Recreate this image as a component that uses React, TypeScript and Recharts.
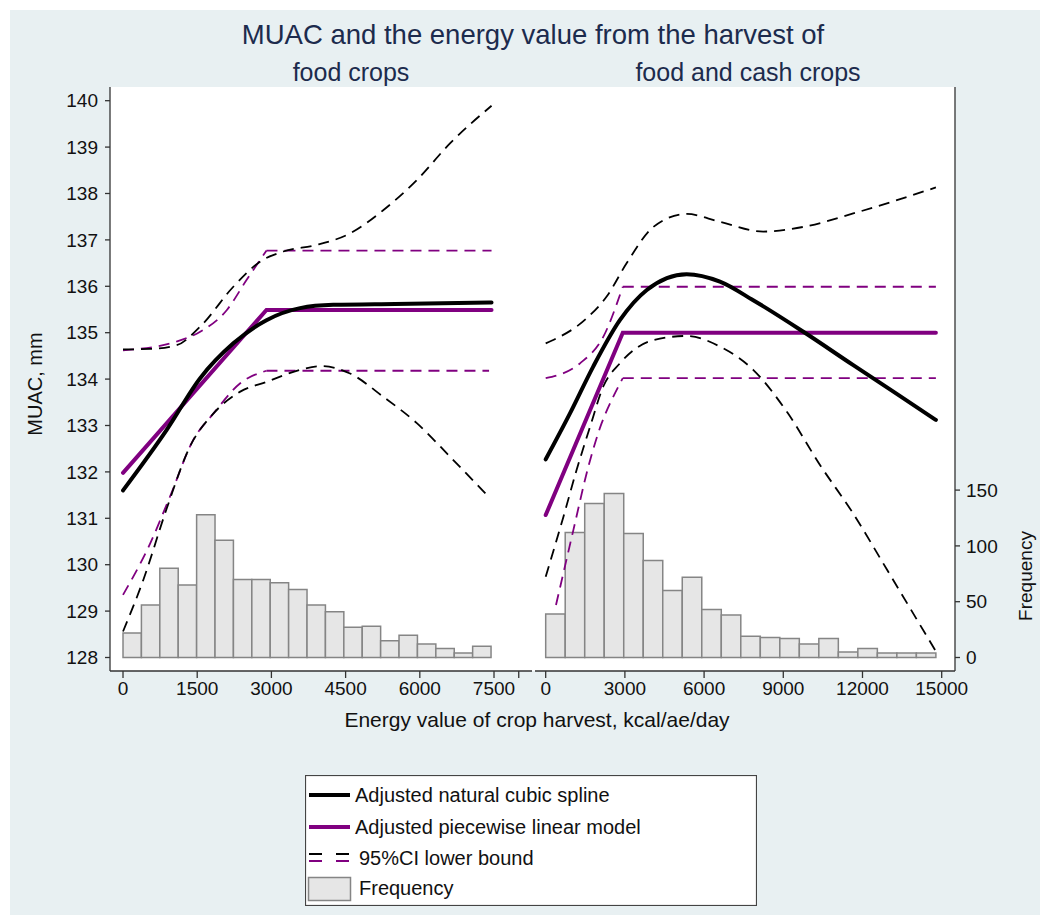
import React from "react";
import { ComposedChart, Line, XAxis, YAxis, ReferenceArea } from "recharts";

type Pair = [number, number];

const font = '"Liberation Sans", Arial, sans-serif';
const navy = "#1c2b4d";
const purple = "#800080";

// histogram bins (frequency per bin)
const foodBinWidth = 372;
const foodFreq = [22, 47, 80, 65, 128, 105, 70, 70, 67, 61, 47, 41, 27, 28, 15, 20, 12, 8, 4, 10];
const cashBinWidth = 739;
const cashFreq = [39, 112, 138, 147, 111, 87, 60, 72, 43, 38, 19, 18, 17, 12, 17, 5, 8, 4, 4, 4];

// food crops panel
const foodSpline: Pair[] = [[0, 131.6], [880, 132.9], [1560, 134.02], [2230, 134.77], [2900, 135.27], [3580, 135.53], [4250, 135.6], [5500, 135.62], [7450, 135.65]];
const foodSplineUpper: Pair[] = [[0, 134.64], [550, 134.65], [1085, 134.73], [1560, 135.13], [2230, 135.99], [2770, 136.53], [3240, 136.75], [3910, 136.89], [4590, 137.14], [5260, 137.64], [5940, 138.29], [6610, 139.08], [7450, 139.89]];
const foodSplineLower: Pair[] = [[0, 128.56], [410, 129.67], [880, 131.2], [1350, 132.54], [1830, 133.26], [2370, 133.73], [2900, 133.94], [3580, 134.2], [4020, 134.28], [4590, 134.12], [5260, 133.62], [5940, 133.05], [6610, 132.33], [7420, 131.43]];
const foodPiece: Pair[] = [[0, 131.98], [2900, 135.49], [7450, 135.49]];
const foodPieceUpper: Pair[] = [[0, 134.62], [1085, 134.81], [1560, 135.02], [2100, 135.49], [2500, 136.14], [2900, 136.77], [7450, 136.77]];
const foodPieceLower: Pair[] = [[0, 129.35], [550, 130.46], [950, 131.47], [1420, 132.69], [1830, 133.26], [2370, 133.91], [2900, 134.18], [7400, 134.18]];
const foodKnot = 2900;

// food and cash crops panel
const cashSpline: Pair[] = [[0, 132.27], [920, 133.26], [1800, 134.27], [2810, 135.27], [3830, 135.92], [5340, 136.26], [6600, 136.1], [7860, 135.7], [9760, 135.02], [11650, 134.3], [13170, 133.73], [14780, 133.12]];
const cashSplineUpper: Pair[] = [[0, 134.77], [1550, 135.31], [2310, 135.78], [3070, 136.5], [4080, 137.28], [5340, 137.56], [6600, 137.39], [8240, 137.18], [9760, 137.28], [11650, 137.57], [14780, 138.13]];
const cashSplineLower: Pair[] = [[0, 129.74], [670, 131.03], [1170, 132.04], [1680, 132.97], [2180, 133.84], [2810, 134.34], [4080, 134.84], [5340, 134.93], [6600, 134.7], [7860, 134.2], [9130, 133.3], [10390, 132.15], [11650, 131.1], [12920, 129.9], [14750, 128.16]];
const cashPiece: Pair[] = [[0, 131.07], [2920, 135.0], [14780, 135.0]];
const cashPieceUpper: Pair[] = [[0, 134.02], [1300, 134.34], [2180, 134.91], [2920, 135.99], [14780, 135.99]];
const cashPieceLower: Pair[] = [[390, 129.13], [1050, 130.75], [1610, 132.1], [2120, 133.05], [2500, 133.55], [2920, 134.02], [14780, 134.02]];
const cashKnot = 2920;

const muacTicks = [128, 129, 130, 131, 132, 133, 134, 135, 136, 137, 138, 139, 140];
const freqTicks = [0, 50, 100, 150];
const foodTicks = [0, 1500, 3000, 4500, 6000, 7500, 8000];
const cashTicks = [0, 3000, 6000, 9000, 12000, 15000];

const muacDomain: [number, number] = [127.709, 140.295];
const freqDomain: [number, number] = [-12.1, 511.2];

const pts = (a: Pair[]) => a.map(([x, y]) => ({ x, y }));

const axisStyle = { stroke: "#333", strokeWidth: 1.3 };
const tickStyle = { fill: "#111", fontSize: 19, fontFamily: font };

function curves(spline: Pair[], sUp: Pair[], sLo: Pair[], piece: Pair[], pUp: Pair[], pLo: Pair[], knot: number) {
  const dash = "11 7";
  const thin = 1.8;
  const common = { dot: false, isAnimationActive: false, yAxisId: "muac", dataKey: "y" } as const;
  const before = (a: Pair[]) => pts(a.filter((p) => p[0] <= knot));
  const after = (a: Pair[]) => pts(a.filter((p) => p[0] >= knot));
  return [
    <Line key="pu1" {...common} data={before(pUp)} type="monotone" stroke={purple} strokeWidth={thin} strokeDasharray={dash} />,
    <Line key="pu2" {...common} data={after(pUp)} type="linear" stroke={purple} strokeWidth={thin} strokeDasharray={dash} />,
    <Line key="pl1" {...common} data={before(pLo)} type="monotone" stroke={purple} strokeWidth={thin} strokeDasharray={dash} />,
    <Line key="pl2" {...common} data={after(pLo)} type="linear" stroke={purple} strokeWidth={thin} strokeDasharray={dash} />,
    <Line key="su" {...common} data={pts(sUp)} type="monotone" stroke="#000" strokeWidth={thin} strokeDasharray={dash} />,
    <Line key="sl" {...common} data={pts(sLo)} type="monotone" stroke="#000" strokeWidth={thin} strokeDasharray={dash} />,
    <Line key="pc" {...common} data={pts(piece)} type="linear" stroke={purple} strokeWidth={4} strokeLinecap="round" />,
    <Line key="sp" {...common} data={pts(spline)} type="monotone" stroke="#000" strokeWidth={4} strokeLinecap="round" />,
  ];
}

function bars(freq: number[], width: number) {
  return freq.map((f, i) => (
    <ReferenceArea
      key={"b" + i}
      yAxisId="freq"
      x1={i * width}
      x2={(i + 1) * width}
      y1={0}
      y2={f}
      fill="#e6e6e6"
      fillOpacity={1}
      stroke="#858585"
      strokeWidth={1.5}
      ifOverflow="visible"
    />
  ));
}

const abs = (left: number, top: number, extra: React.CSSProperties = {}): React.CSSProperties => ({
  position: "absolute",
  left,
  top,
  ...extra,
});

const centered: React.CSSProperties = { transform: "translateX(-50%)", whiteSpace: "nowrap", lineHeight: 1 };
const rotated: React.CSSProperties = { transform: "translate(-50%, -50%) rotate(-90deg)", whiteSpace: "nowrap", lineHeight: 1, color: "#111" };

export default function App() {
  return (
    <div style={{ position: "absolute", left: 0, top: 0, width: 1040, height: 915, background: "#fff", fontFamily: font }}>
      <div style={abs(10, 10, { width: 1030, height: 905, background: "#e8f0f2" })} />
      <div style={abs(110, 87, { width: 845, height: 584, background: "#fff" })} />

      <div style={abs(533, 21, { ...centered, fontSize: 27.5, color: navy })}>
        MUAC and the energy value from the harvest of
      </div>
      <div style={abs(351, 60, { ...centered, fontSize: 25, color: navy })}>food crops</div>
      <div style={abs(748, 60, { ...centered, fontSize: 25, color: navy })}>food and cash crops</div>

      <div style={abs(0, 87)}>
        <ComposedChart width={532} height={624} margin={{ top: 0, right: 0, bottom: 0, left: 0 }}>
          <XAxis
            type="number"
            dataKey="x"
            domain={[-263, 8268]}
            ticks={foodTicks}
            tickFormatter={(v: number) => (v === 8000 ? "" : String(v))}
            interval={0}
            allowDataOverflow
            height={40}
            tickSize={7}
            tickMargin={4}
            axisLine={axisStyle}
            tickLine={axisStyle}
            tick={tickStyle}
          />
          <YAxis
            yAxisId="muac"
            orientation="left"
            type="number"
            domain={muacDomain}
            ticks={muacTicks}
            interval={0}
            allowDataOverflow
            width={110}
            tickSize={5}
            tickMargin={7}
            axisLine={axisStyle}
            tickLine={axisStyle}
            tick={tickStyle}
          />
          <YAxis yAxisId="freq" orientation="right" width={0} type="number" domain={freqDomain} allowDataOverflow hide />
          {bars(foodFreq, foodBinWidth)}
          {curves(foodSpline, foodSplineUpper, foodSplineLower, foodPiece, foodPieceUpper, foodPieceLower, foodKnot)}
        </ComposedChart>
      </div>

      <div style={abs(535, 87)}>
        <ComposedChart width={505} height={624} margin={{ top: 0, right: 0, bottom: 0, left: 0 }}>
          <XAxis
            type="number"
            dataKey="x"
            domain={[-405, 15504]}
            ticks={cashTicks}
            interval={0}
            allowDataOverflow
            height={40}
            tickSize={7}
            tickMargin={4}
            axisLine={axisStyle}
            tickLine={axisStyle}
            tick={tickStyle}
          />
          <YAxis yAxisId="muac" orientation="left" width={0} type="number" domain={muacDomain} allowDataOverflow hide />
          <YAxis
            yAxisId="freq"
            orientation="right"
            type="number"
            domain={freqDomain}
            ticks={freqTicks}
            interval={0}
            allowDataOverflow
            width={85}
            tickSize={5}
            tickMargin={6}
            axisLine={axisStyle}
            tickLine={axisStyle}
            tick={tickStyle}
          />
          {bars(cashFreq, cashBinWidth)}
          {curves(cashSpline, cashSplineUpper, cashSplineLower, cashPiece, cashPieceUpper, cashPieceLower, cashKnot)}
        </ComposedChart>
      </div>

      <div style={abs(537, 709, { ...centered, fontSize: 21, color: "#111" })}>
        Energy value of crop harvest, kcal/ae/day
      </div>
      <div style={abs(35, 384, { ...rotated, fontSize: 20 })}>MUAC, mm</div>
      <div style={abs(1025, 576, { ...rotated, fontSize: 19 })}>Frequency</div>

      <svg style={abs(305, 775)} width={452} height={131}>
        <rect x={0.5} y={0.5} width={451} height={130} fill="#fff" stroke="#444" strokeWidth={1.2} />
        <line x1={4} x2={45} y1={20} y2={20} stroke="#000" strokeWidth={4} />
        <text x={50} y={27} fontSize={20} fontFamily={font} fill="#111">Adjusted natural cubic spline</text>
        <line x1={4} x2={45} y1={52} y2={52} stroke={purple} strokeWidth={4} />
        <text x={50} y={59} fontSize={20} fontFamily={font} fill="#111">Adjusted piecewise linear model</text>
        <line x1={4} x2={45} y1={79} y2={79} stroke="#000" strokeWidth={1.8} strokeDasharray="13 14" />
        <line x1={4} x2={45} y1={86} y2={86} stroke={purple} strokeWidth={1.8} strokeDasharray="13 14" />
        <text x={54} y={90} fontSize={20} fontFamily={font} fill="#111">95%CI lower bound</text>
        <rect x={3.5} y={102.5} width={42} height={23} fill="#e6e6e6" stroke="#858585" strokeWidth={1.5} />
        <text x={54} y={120} fontSize={20} fontFamily={font} fill="#111">Frequency</text>
      </svg>
    </div>
  );
}
